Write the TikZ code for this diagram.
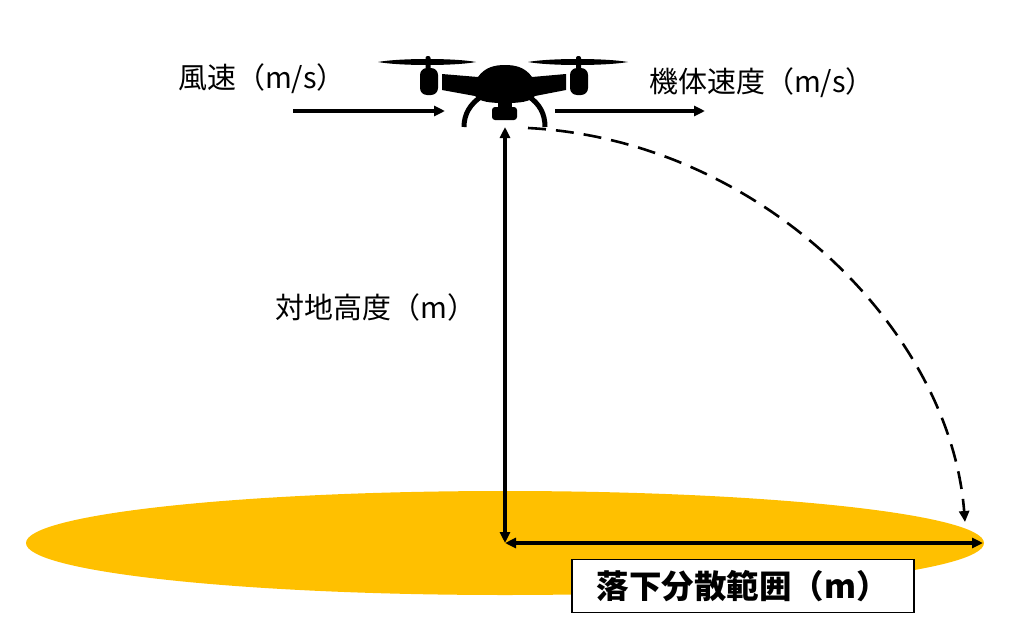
\documentclass[tikz,border=0pt]{standalone}
\usepackage{fontspec}
\newfontfamily\jp{Noto Sans CJK JP}
\usetikzlibrary{arrows.meta}
\definecolor{field}{HTML}{FFC000}

\begin{document}
\begin{tikzpicture}[x=1pt,y=-1pt]
        \useasboundingbox (0,0) rectangle (1018,640);

        % ground
        \fill[field] (505,543) ellipse [x radius=479, y radius=52];

        % drone
        \begin{scope}[black]
          \fill (378,62) .. controls (400,58) and (455,58) .. (476,62) .. controls (455,66) and (400,66) .. (378,62) -- cycle;
          \fill (528,62) .. controls (550,58) and (605,58) .. (628,62) .. controls (605,66) and (550,66) .. (528,62) -- cycle;
          \fill[rounded corners=2] (425.5,56) rectangle (430.5,70);
          \fill[rounded corners=2] (576,56) rectangle (581,70);
          \fill[rounded corners=7] (420,68) rectangle (438,95);
          \fill[rounded corners=7] (570,68) rectangle (588,95);
          \fill (442,74) -- (478,77) .. controls (485,67) and (495,65) .. (505,65)
                .. controls (515,65) and (525,67) .. (532,77) -- (566,74) -- (566,90)
                -- (535,96) .. controls (530,102) and (520,103) .. (505,103)
                .. controls (490,103) and (480,102) .. (475,96) -- (442,90) -- cycle;
          \fill (498,100) rectangle (512,110);
          \fill[rounded corners=3] (492,107) rectangle (517,120);
          \draw[line width=5] (482,96) .. controls (470,104) and (464,114) .. (464,127);
          \draw[line width=5] (528,96) .. controls (540,104) and (545,114) .. (545,127);
        \end{scope}

        \coordinate (w1) at (293,111);
        \coordinate (w2) at (445,111);
        \coordinate (v1) at (555,111);
        \coordinate (v2) at (705,111);
        \coordinate (top) at (505,127);
        \coordinate (foot) at (505,543);
        \coordinate (edge) at (983,543);
        \coordinate (fall0) at (528,128);
        \coordinate (fall1) at (965,522);

        \begin{scope}[every node/.style={font=\jp\fontsize{29}{32}\selectfont, inner sep=0}]
          \node (wind)   at (262,79)  {風速（m/s）};
          \node (speed)  at (762,83)  {機体速度（m/s）};
          \node (height) at (376,307) {対地高度（m）};
        \end{scope}

        \node[draw, line width=1.2, fill=white, minimum width=342, minimum height=53,
              font=\jp\bfseries\fontsize{32.5}{35}\selectfont] (range) at (743,586) {落下分散範囲（m）};

        \begin{scope}[line width=3.2, >={Triangle[length=11pt,width=10pt]}]
          \draw[->] (w1) -- (w2);
          \draw[->] (v1) -- (v2);
          \draw[<->] (top) -- (foot);
          \draw[<->] (foot) -- (edge);
          \draw[->, line width=2.6, dash pattern=on 18pt off 10pt]
            (fall0) .. controls (760,140) and (950,330) .. (fall1);
        \end{scope}

      \end{tikzpicture}
\end{document}
